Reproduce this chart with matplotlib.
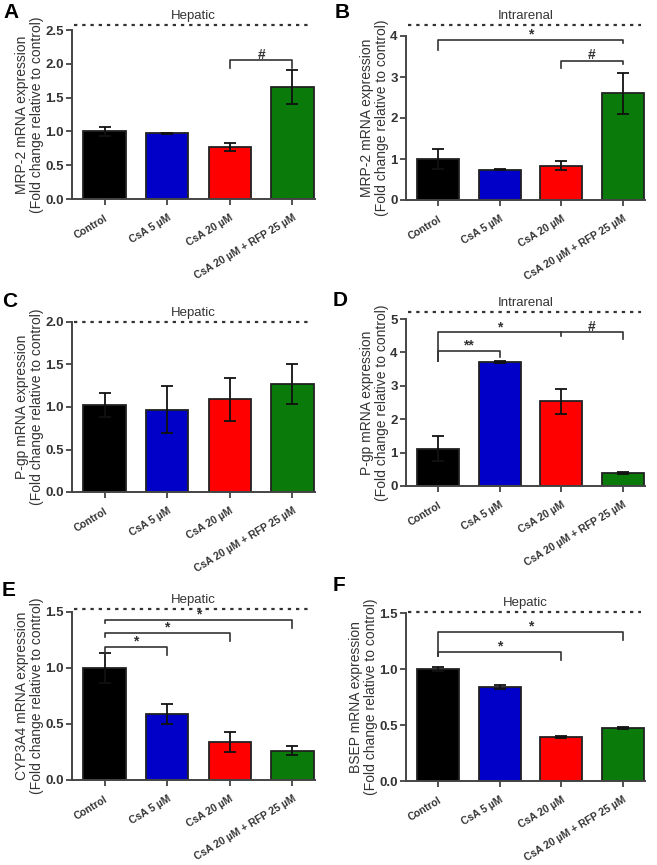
import numpy as np
import matplotlib.pyplot as plt

plt.rcParams['font.family'] = ['Liberation Sans', 'DejaVu Sans']

groups = ['Control', 'CsA 5 µM', 'CsA 20 µM', 'CsA 20 µM + RFP 25 µM']
bar_colors = ['#000000', '#0000c8', '#ff0000', '#0a7a0a']

# panel A: MRP-2 hepatic
mrp2_hep = [1.00, 0.97, 0.77, 1.66]
mrp2_hep_err = [0.07, 0.01, 0.06, 0.25]
# panel B: MRP-2 intrarenal
mrp2_ren = [1.00, 0.74, 0.84, 2.60]
mrp2_ren_err = [0.24, 0.02, 0.10, 0.50]
# panel C: P-gp hepatic
pgp_hep = [1.02, 0.97, 1.09, 1.27]
pgp_hep_err = [0.14, 0.28, 0.25, 0.23]
# panel D: P-gp intrarenal
pgp_ren = [1.12, 3.70, 2.53, 0.40]
pgp_ren_err = [0.38, 0.03, 0.38, 0.03]
# panel E: CYP3A4 hepatic
cyp_hep = [1.00, 0.59, 0.34, 0.26]
cyp_hep_err = [0.13, 0.09, 0.09, 0.04]
# panel F: BSEP hepatic
bsep_hep = [1.00, 0.84, 0.39, 0.47]
bsep_hep_err = [0.02, 0.02, 0.01, 0.01]

W, H = 657, 865
INK = '#333333'

panels = [
    # letter, title, ylabel, vals, errs, ymax, yticks, fmt, box px (l, r, t, b), dotted y px, letter px, brackets
    ('A', 'Hepatic', 'MRP-2 mRNA expression', mrp2_hep, mrp2_hep_err, 2.5,
     np.arange(0, 2.51, 0.5), '%.1f', (72, 315, 30, 199), 25, (3, 3),
     [(2, 3, 2.05, 0.06, 0.06, '#')]),
    ('B', 'Intrarenal', 'MRP-2 mRNA expression', mrp2_ren, mrp2_ren_err, 4,
     np.arange(0, 5, 1), '%d', (406, 645, 36, 200), 25, (335, 3),
     [(0, 3, 3.9, 0.15, 0.0, '*'), (2, 3, 3.4, 0.1, 0.0, '#')]),
    ('C', 'Hepatic', 'P-gp mRNA expression', pgp_hep, pgp_hep_err, 2.0,
     np.arange(0, 2.01, 0.5), '%.1f', (72, 315, 322, 492), 322, (2, 292), []),
    ('D', 'Intrarenal', 'P-gp mRNA expression', pgp_ren, pgp_ren_err, 5,
     np.arange(0, 6, 1), '%d', (406, 645, 319, 486), 312, (333, 291),
     [(0, 1, 4.05, 0.2, 0.1, '**'), (0, 3, 4.6, 0.75, 0.1, '')]),
    ('E', 'Hepatic', 'CYP3A4 mRNA expression', cyp_hep, cyp_hep_err, 1.5,
     np.arange(0, 1.51, 0.5), '%.1f', (72, 315, 612, 780), 609, (2, 581),
     [(0, 1, 1.19, 0.05, 0.04, '*'), (0, 2, 1.31, 0.0, 0.04, '*'),
      (0, 3, 1.43, 0.0, 0.04, '*')]),
    ('F', 'Hepatic', 'BSEP mRNA expression', bsep_hep, bsep_hep_err, 1.5,
     np.arange(0, 1.51, 0.5), '%.1f', (406, 645, 613, 781), 612, (333, 576),
     [(0, 2, 1.15, 0.0, 0.04, '*'), (0, 3, 1.33, 0.18, 0.04, '*')]),
]

fig = plt.figure(figsize=(W / 100, H / 100), dpi=100)
x = np.arange(len(groups))

for (letter, title, ylab, vals, errs, ymax, yt, fmt, box, dot_y, lpos, brackets) in panels:
    l, r, t, b = box
    ax = fig.add_axes([l / W, (H - b) / H, (r - l) / W, (b - t) / H])
    ax.bar(x, vals, width=0.68, color=bar_colors, edgecolor='#222222', linewidth=1.3)
    ax.errorbar(x, vals, yerr=errs, fmt='none', ecolor='#111111', elinewidth=1.3,
                capsize=4.5, capthick=1.3)
    ax.set_xlim(-0.52, 3.36)
    ax.set_ylim(0, ymax)
    ax.set_yticks(yt)
    ax.set_yticklabels([fmt % v for v in yt], fontsize=9.5, fontweight='bold', color=INK)
    ax.set_xticks(x)
    ax.set_xticklabels(groups, rotation=31, ha='right', rotation_mode='anchor',
                       fontsize=7.5, fontweight='bold', color=INK)
    ax.spines['top'].set_visible(False)
    ax.spines['right'].set_visible(False)
    for side in ('left', 'bottom'):
        ax.spines[side].set_linewidth(1.4)
        ax.spines[side].set_color('#444444')
    ax.tick_params(axis='both', length=4, width=1.3, color='#444444', pad=2)
    ax.tick_params(axis='x', pad=6)
    ax.set_ylabel(ylab + '\n(Fold change relative to control)', fontsize=10,
                  color=INK, labelpad=1, linespacing=1.1)

    # significance brackets
    for x1, x2, y, d1, d2, lab in brackets:
        ax.plot([x1, x1, x2, x2], [y - d1 - ymax * 0.02, y, y, y - d2 - ymax * 0.02],
                color=INK, lw=1.2, clip_on=False)
        if lab:
            ax.text((x1 + x2) / 2, y - ymax * 0.01, lab, ha='center', va='bottom', fontsize=10,
                    fontweight='bold', color=INK)
    if letter == 'D':
        ax.plot([2, 2], [4.6, 4.5], color=INK, lw=1.2)
        ax.text(1.0, 4.55, '*', ha='center', va='bottom', fontsize=10, fontweight='bold', color=INK)
        ax.text(2.5, 4.55, '#', ha='center', va='bottom', fontsize=10, fontweight='bold', color=INK)

    # dotted header line and title
    fig.add_artist(plt.Line2D([(l + 2) / W, (r - 4) / W], [(H - dot_y) / H] * 2,
                              linestyle=(0, (1.5, 2.2)), color=INK, lw=1.6))
    fig.text((l + r) / 2 / W, (H - dot_y + 3) / H, title, ha='center', va='bottom',
             fontsize=9.5, color=INK)
    fig.text(lpos[0] / W, (H - lpos[1]) / H, letter, ha='left', va='top',
             fontsize=15, fontweight='bold')

fig.savefig('out.png', dpi=100)
